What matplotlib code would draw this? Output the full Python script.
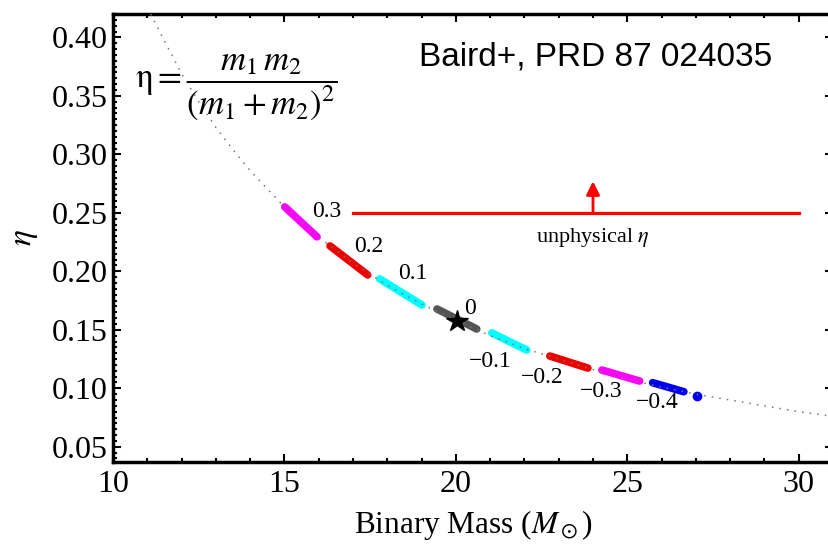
import matplotlib
matplotlib.use("Agg")
import matplotlib.pyplot as plt
from matplotlib.ticker import MultipleLocator

plt.rcParams['font.family'] = ['Liberation Serif', 'DejaVu Serif']
plt.rcParams['mathtext.fontset'] = 'stix'

# Dotted curve (binary mass vs eta)
curve_mass = [11.1, 11.5, 12, 12.5, 13, 13.5, 14, 15, 16, 17, 18, 19, 20, 21, 22,
              23, 24, 25, 26, 27, 28, 29, 30, 31]
curve_eta = [0.420, 0.397, 0.369, 0.345, 0.323, 0.304, 0.286, 0.255, 0.229, 0.207,
             0.188, 0.172, 0.158, 0.145, 0.134, 0.125, 0.116, 0.108, 0.101, 0.095,
             0.090, 0.085, 0.080, 0.076]

# Coloured segments: label, colour, mass start/end, eta start/end
seg_labels = ['0.3', '0.2', '0.1', '0', '\u22120.1', '\u22120.2', '\u22120.3', '\u22120.4']
seg_colors = ['#ff00ff', '#ee0000', '#00ffff', '#555555', '#00ffff', '#ee0000', '#ff00ff', '#0000ee']
seg_m0 = [15.01, 16.33, 17.78, 19.45, 21.05, 22.74, 24.26, 25.74]
seg_m1 = [15.95, 17.43, 19.01, 20.61, 22.07, 23.85, 25.36, 26.65]
seg_e0 = [0.2551, 0.2217, 0.1935, 0.1678, 0.1473, 0.1276, 0.1156, 0.1048]
seg_e1 = [0.2295, 0.1969, 0.1712, 0.1507, 0.1327, 0.1173, 0.1062, 0.0971]
lab_m = [16.24, 17.46, 18.75, 20.41, 20.99, 22.51, 24.23, 25.86]
lab_e = [0.2509, 0.2209, 0.1978, 0.1680, 0.1226, 0.1089, 0.0971, 0.0877]

extra_dot_m, extra_dot_e = 27.03, 0.0937
star_m, star_e = 20.03, 0.1575

unphys_eta = 0.25
unphys_m = [17.0, 30.0]
arrow_m = 24.0
arrow_top = 0.277

fig = plt.figure(figsize=(8.29, 5.45), dpi=100)
ax = fig.add_axes([113/829, 1-462/545, 720/829, (462-14)/545])
ax.set_xlim(10, 31)
ax.set_ylim(0.037, 0.42)

for c, m0, m1, e0, e1 in zip(seg_colors, seg_m0, seg_m1, seg_e0, seg_e1):
    ax.plot([m0, m1], [e0, e1], color=c, lw=5.5, solid_capstyle='round', zorder=2)
ax.plot([extra_dot_m], [extra_dot_e], 'o', color='#0000ee', ms=6, zorder=2)

ax.plot(curve_mass, curve_eta, color='#777777', lw=1.1, ls=(0, (1, 4)), zorder=3)

ax.plot([star_m], [star_e], marker='*', color='black', ms=16, zorder=4)

for t, m, e in zip(seg_labels, lab_m, lab_e):
    ax.text(m, e, t, fontsize=17, ha='center', va='center', zorder=5)

ax.plot(unphys_m, [unphys_eta, unphys_eta], color='red', lw=2.3, zorder=3)
ax.annotate('', xy=(arrow_m, arrow_top), xytext=(arrow_m, unphys_eta),
            arrowprops=dict(arrowstyle='-|>', color='red', lw=2, mutation_scale=20,
                            shrinkA=0, shrinkB=0))
ax.text(arrow_m, 0.229, r'unphysical $\eta$', fontsize=16, ha='center', va='center')

ax.text(0.425, 0.905, 'Baird+, PRD 87 024035', transform=ax.transAxes,
        fontsize=24, family=['Liberation Sans', 'DejaVu Sans'], ha='left', va='center')
ax.text(0.031, 0.836, r'$\mathrm{\eta}=\dfrac{m_1\,m_2}{(m_1+m_2)^2}$', transform=ax.transAxes,
        fontsize=25, ha='left', va='center')

ax.set_xlabel(r'Binary Mass ($M_\odot$)', fontsize=22.5, labelpad=6)
ax.set_ylabel(r'$\eta$', fontsize=24, labelpad=8)

ax.xaxis.set_major_locator(MultipleLocator(5))
ax.xaxis.set_minor_locator(MultipleLocator(1))
ax.yaxis.set_major_locator(MultipleLocator(0.05))
ax.yaxis.set_minor_locator(MultipleLocator(0.005))
ax.yaxis.set_major_formatter(matplotlib.ticker.FormatStrFormatter('%.2f'))
ax.tick_params(which='both', direction='in', top=True, right=True, labelsize=23, color='black')
ax.tick_params(which='major', length=6, width=1.5, pad=4)
ax.tick_params(axis='x', which='major', pad=6)
ax.tick_params(which='minor', length=3, width=1.5)
for s in ax.spines.values():
    s.set_linewidth(2.5)

fig.savefig('out.png', dpi=100)
